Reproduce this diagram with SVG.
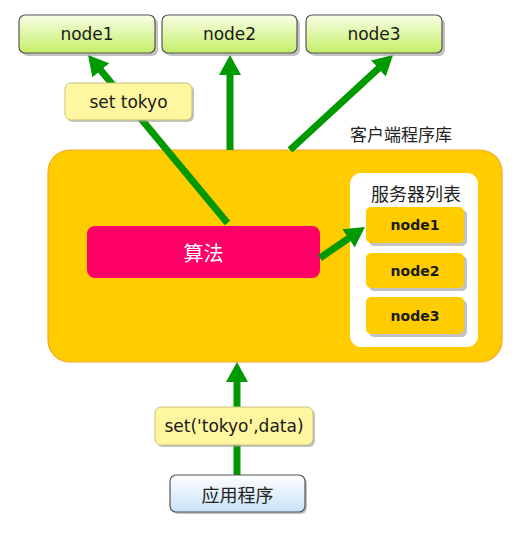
<svg xmlns="http://www.w3.org/2000/svg" width="521" height="539" viewBox="0 0 521 539">
<style>
.lat{font-family:"DejaVu Sans","Noto Sans CJK SC",sans-serif;fill:#1a1a1a;text-anchor:middle;dominant-baseline:central}
.cjk{font-family:"Noto Sans CJK SC",sans-serif;text-anchor:middle;dominant-baseline:central}
.top{fill:url(#gLime);stroke:#555;stroke-width:1.2}
.shadow{fill:#9a9a9a;opacity:0.6}
.item{fill:#FFCC00}
.conn{stroke:#009900;stroke-width:7;fill:none;marker-end:url(#ah)}
</style>
<defs>
<linearGradient id="gLime" x1="0" y1="0" x2="0" y2="1">
<stop offset="0" stop-color="#f8ffe6"/><stop offset="1" stop-color="#c4ee66"/>
</linearGradient>
<linearGradient id="gBlue" x1="0" y1="0" x2="0" y2="1">
<stop offset="0" stop-color="#ffffff"/><stop offset="1" stop-color="#c8e2f8"/>
</linearGradient>
<marker id="ah" viewBox="0 0 20 22" refX="8" refY="11" markerWidth="20" markerHeight="22" markerUnits="userSpaceOnUse" orient="auto">
<path d="M0,0 L20,11 L0,22 z" fill="#009900"/>
</marker>
</defs>
<rect width="521" height="539" fill="#ffffff"/>

<g id="client-lib">
<rect x="48" y="150" width="454" height="212" rx="22" fill="#FFCC00" stroke="#F5A623" stroke-width="1.2"/>
<text class="cjk" x="401" y="133" font-size="17" fill="#222">客户端程序库</text>
</g>

<g id="algorithm">
<rect x="87" y="226" width="233" height="52" rx="8" fill="#FF0066"/>
<text class="cjk" x="203.5" y="252" font-size="20" fill="#ffffff">算法</text>
</g>

<g id="server-list">
<rect x="350" y="173" width="128" height="174" rx="11" fill="#ffffff"/>
<text class="cjk" x="416" y="193" font-size="18" fill="#222">服务器列表</text>
</g>

<g id="connectors">
<line class="conn" x1="227.5" y1="223" x2="95.7" y2="64.2"/>
<line class="conn" x1="230" y1="150" x2="230" y2="67"/>
<line class="conn" x1="290" y1="150" x2="384.2" y2="63.1"/>
<line class="conn" x1="320" y1="258" x2="355.1" y2="233.8"/>
<line class="conn" x1="237" y1="475" x2="237" y2="374"/>
</g>

<g id="top-node1">
<rect class="shadow" x="22" y="18" width="136" height="38" rx="6"/>
<rect class="top" x="19" y="15" width="136" height="38" rx="6"/>
<text class="lat" x="87" y="34" font-size="17">node1</text>
</g>
<g id="top-node2">
<rect class="shadow" x="165" y="18" width="135" height="38" rx="6"/>
<rect class="top" x="162" y="15" width="135" height="38" rx="6"/>
<text class="lat" x="229.5" y="34" font-size="17">node2</text>
</g>
<g id="top-node3">
<rect class="shadow" x="309" y="18" width="136" height="38" rx="6"/>
<rect class="top" x="306" y="15" width="136" height="38" rx="6"/>
<text class="lat" x="374" y="34" font-size="17">node3</text>
</g>

<g id="label-set-tokyo">
<rect class="shadow" x="67" y="85" width="127" height="37" rx="6"/>
<rect x="65" y="83" width="127" height="37" rx="6" fill="#FFF6A0" stroke="#C8C080" stroke-width="1"/>
<text class="lat" x="128.5" y="101.5" font-size="17">set tokyo</text>
</g>

<g id="list-node1">
<rect class="shadow" x="369" y="210" width="98" height="36" rx="5"/>
<rect class="item" x="366" y="207" width="98" height="36" rx="5"/>
<text class="lat" x="415" y="225" font-size="14" font-weight="bold" fill="#111">node1</text>
</g>
<g id="list-node2">
<rect class="shadow" x="369" y="256" width="98" height="35" rx="5"/>
<rect class="item" x="366" y="253" width="98" height="35" rx="5"/>
<text class="lat" x="415" y="270.5" font-size="14" font-weight="bold" fill="#111">node2</text>
</g>
<g id="list-node3">
<rect class="shadow" x="369" y="300" width="98" height="37" rx="5"/>
<rect class="item" x="366" y="297" width="98" height="37" rx="5"/>
<text class="lat" x="415" y="315.5" font-size="14" font-weight="bold" fill="#111">node3</text>
</g>

<g id="label-set-call">
<rect class="shadow" x="157" y="409" width="158" height="38" rx="6"/>
<rect x="155" y="407" width="158" height="38" rx="6" fill="#FFF6A0" stroke="#C8C080" stroke-width="1"/>
<text class="lat" x="234" y="426" font-size="17">set('tokyo',data)</text>
</g>

<g id="app">
<rect class="shadow" x="172" y="477" width="135" height="37" rx="6"/>
<rect x="170" y="475" width="135" height="37" rx="6" fill="url(#gBlue)" stroke="#555" stroke-width="1.2"/>
<text class="cjk" x="237.5" y="493.5" font-size="18" fill="#222">应用程序</text>
</g>
</svg>
